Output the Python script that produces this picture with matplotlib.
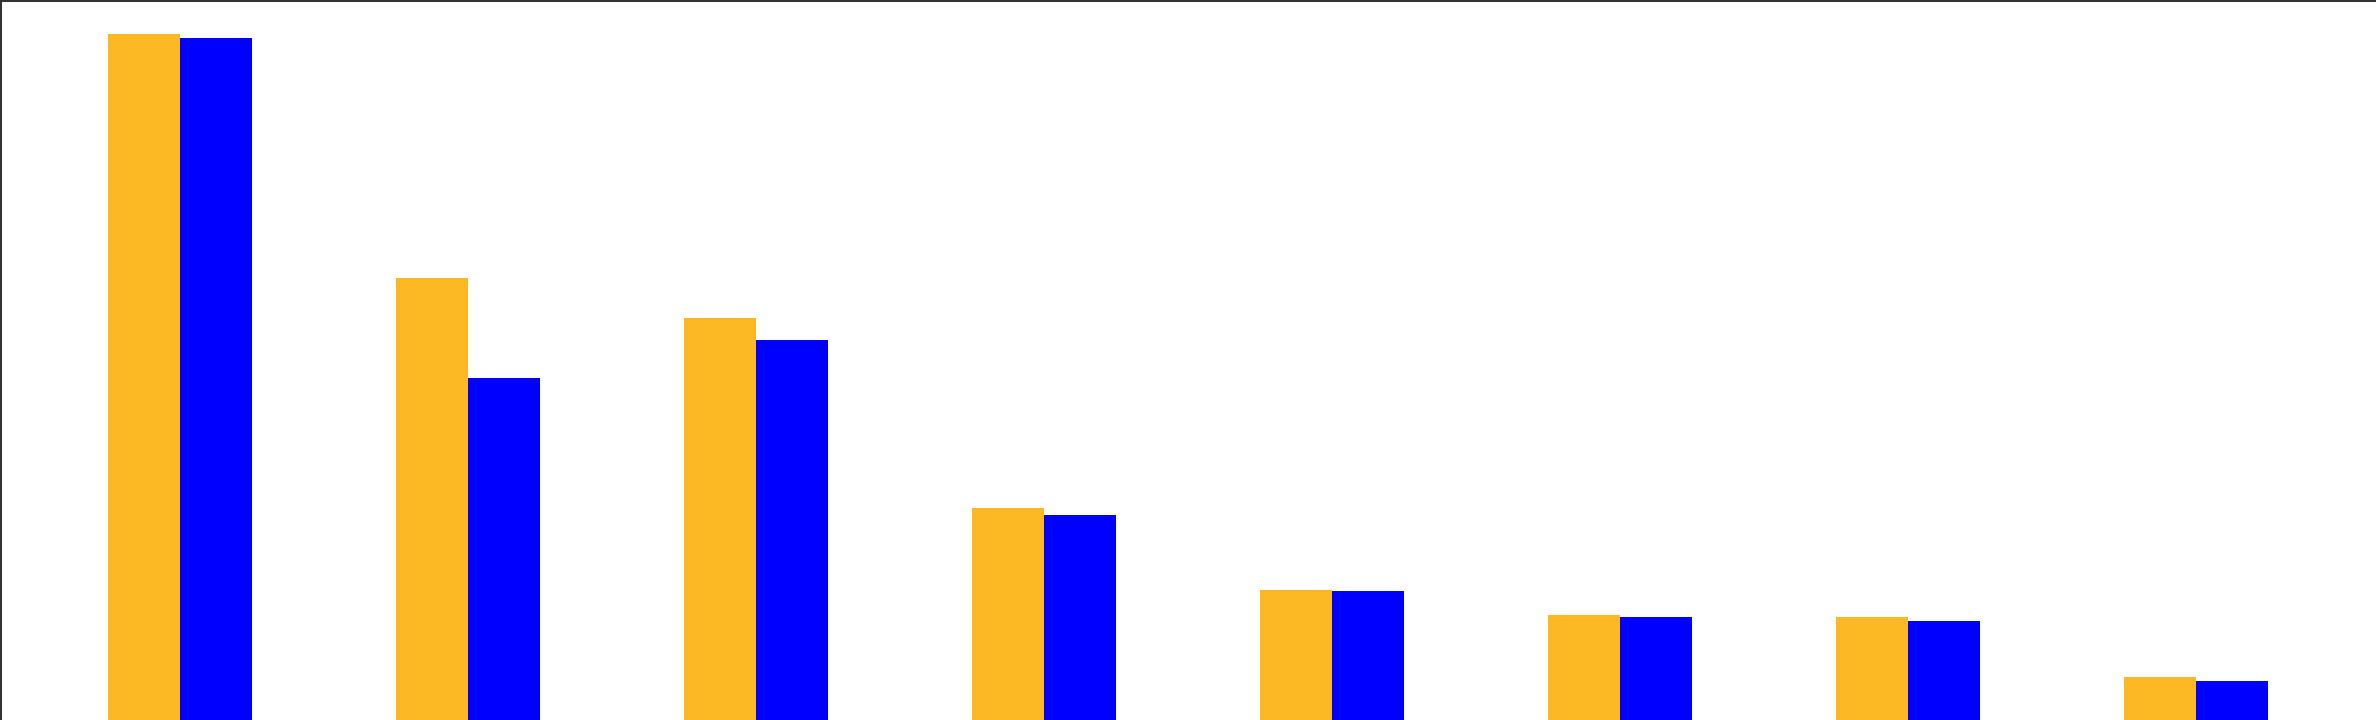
import numpy as np
import matplotlib.pyplot as plt

groups = np.arange(8)
orange_vals = [686, 442, 402, 212, 130, 105, 103, 43]
blue_vals = [682, 342, 380, 205, 129, 103, 99, 39]

width = 0.25

fig = plt.figure(figsize=(23.76, 7.2), dpi=100)
ax = fig.add_axes([0, 0, 1, 1])
ax.bar(groups - width / 2, orange_vals, width, color='#FDB924', linewidth=0)
ax.bar(groups + width / 2, blue_vals, width, color='#0000FF', linewidth=0)

ax.set_xlim(-0.625, 7.625)
ax.set_ylim(0, 720)
ax.set_xticks([])
ax.set_yticks([])
for side in ['right', 'bottom']:
    ax.spines[side].set_visible(False)
for side in ['left', 'top']:
    ax.spines[side].set_linewidth(2.9)
    ax.spines[side].set_color('#333333')

plt.savefig("out.png", dpi=100)
